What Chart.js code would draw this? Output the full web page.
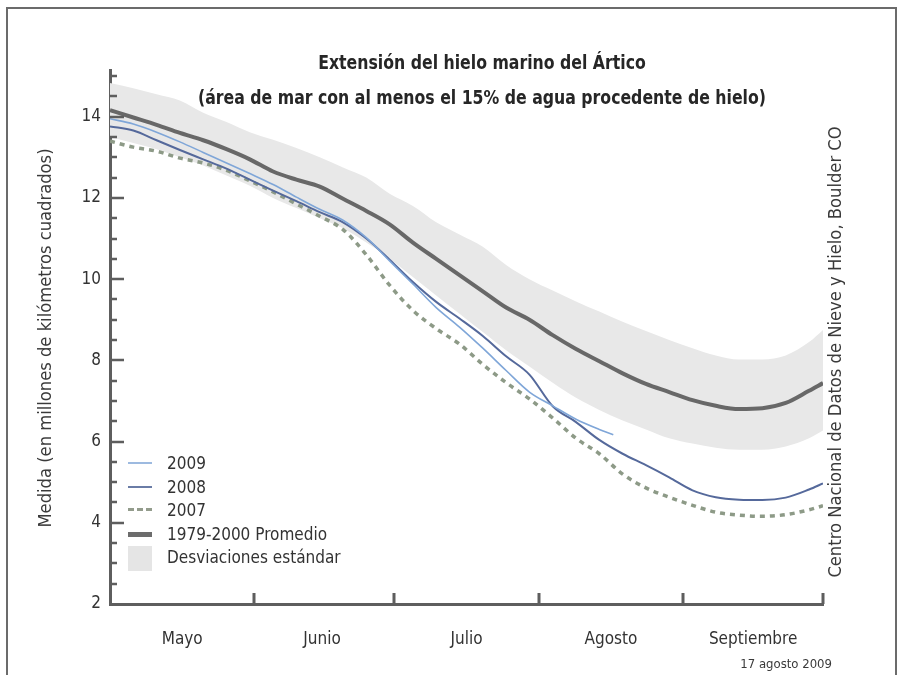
<!DOCTYPE html>
<html lang="es">
<head>
<meta charset="utf-8">
<title>Extensión del hielo marino del Ártico</title>
<script src="https://cdn.jsdelivr.net/npm/chart.js@4.4.1/dist/chart.umd.min.js"></script>
<style>
  html, body { margin: 0; padding: 0; background: #fff; }
  body {
    width: 905px; height: 675px; position: relative; overflow: hidden;
    font-family: "Liberation Sans Narrow", "DejaVu Sans Condensed", "Liberation Sans", sans-serif;
    color: #333;
  }
  #frame { position: absolute; left: 6px; top: 7px; width: 891px; height: 720px; border: 2px solid #6b6b6b; box-sizing: border-box; }
  #chart { position: absolute; left: 0; top: 0; }
  .title { position: absolute; left: 0; width: 964px; text-align: center; font-weight: bold; font-size: 19px; color: #262626; line-height: 22px; transform: scaleX(0.92); }
  .vtext { position: absolute; height: 22px; line-height: 22px; text-align: center; font-size: 18.2px; color: #3a3a3a; transform: rotate(-90deg); white-space: nowrap; }
  #date { position: absolute; right: 73px; top: 656px; font-size: 13px; color: #3a3a3a; }
  .leg { position: absolute; left: 128px; height: 22px; line-height: 22px; font-size: 17px; color: #333; white-space: nowrap; }
  .leg span.sw { position: absolute; left: 0; width: 24px; }
  .leg span.tx { position: absolute; left: 39px; top: 0; }
</style>
</head>
<body>
<div id="frame"></div>
<canvas id="chart" width="905" height="675"></canvas>

<div class="title" style="top:51px;">Extensión del hielo marino del Ártico</div>
<div class="title" style="top:86px;">(área de mar con al menos el 15% de agua procedente de hielo)</div>
<div class="vtext" style="left:-155px; top:327px; width:400px;">Medida (en millones de kilómetros cuadrados)</div>
<div class="vtext" style="left:595px; top:341px; width:480px;">Centro Nacional de Datos de Nieve y Hielo, Boulder CO</div>
<div id="date">17 agosto 2009</div>

<div class="leg" style="top:452px;"><span class="sw" style="top:10px; border-top:2px solid #9dbae0;"></span><span class="tx">2009</span></div>
<div class="leg" style="top:476px;"><span class="sw" style="top:10px; border-top:2.5px solid #6a7ca6;"></span><span class="tx">2008</span></div>
<div class="leg" style="top:499px;"><span class="sw" style="top:9px; border-top:3px dashed #939c8c;"></span><span class="tx">2007</span></div>
<div class="leg" style="top:523px;"><span class="sw" style="top:9px; border-top:5px solid #6c6c6c;"></span><span class="tx">1979-2000 Promedio</span></div>
<div class="leg" style="top:546px;"><span class="sw" style="top:0; height:25px; background:#e5e5e5;"></span><span class="tx">Desviaciones estándar</span></div>

<script>
// días desde el 1 de mayo
const days = [0, 5, 10, 15, 20, 25, 30, 35, 40, 45, 50, 55, 60, 65, 70, 75, 80, 85, 90, 95, 100, 105, 110, 115, 120, 125, 130, 135, 140, 145, 150, 153];
const days2009 = [0, 5, 10, 15, 20, 25, 30, 35, 40, 45, 50, 55, 60, 65, 70, 75, 80, 85, 90, 95, 100, 105, 108];

const mean7900 = [14.16, 13.98, 13.80, 13.60, 13.42, 13.20, 12.95, 12.65, 12.45, 12.28, 11.98, 11.68, 11.35, 10.90, 10.50, 10.10, 9.70, 9.30, 9.00, 8.62, 8.28, 7.98, 7.68, 7.42, 7.22, 7.02, 6.88, 6.80, 6.82, 6.95, 7.25, 7.44];
const sdUpper = [14.83, 14.70, 14.55, 14.40, 14.10, 13.87, 13.62, 13.43, 13.23, 13.00, 12.75, 12.50, 12.10, 11.80, 11.40, 11.10, 10.80, 10.35, 10.00, 9.72, 9.45, 9.20, 8.95, 8.72, 8.50, 8.30, 8.12, 8.02, 8.02, 8.12, 8.45, 8.75];
const sdLower = [13.50, 13.35, 13.20, 13.00, 12.80, 12.55, 12.30, 12.00, 11.75, 11.50, 11.25, 10.90, 10.50, 10.05, 9.60, 9.15, 8.70, 8.25, 7.85, 7.45, 7.08, 6.78, 6.52, 6.30, 6.08, 5.95, 5.85, 5.80, 5.80, 5.88, 6.08, 6.27];
const y2007 = [13.40, 13.25, 13.15, 12.98, 12.86, 12.68, 12.42, 12.15, 11.85, 11.55, 11.22, 10.60, 9.85, 9.23, 8.78, 8.40, 7.90, 7.45, 7.05, 6.58, 6.08, 5.70, 5.20, 4.86, 4.63, 4.43, 4.26, 4.19, 4.16, 4.20, 4.32, 4.42];
const y2008 = [13.76, 13.66, 13.42, 13.18, 12.95, 12.72, 12.45, 12.18, 11.92, 11.65, 11.40, 11.00, 10.48, 9.93, 9.44, 9.03, 8.60, 8.10, 7.65, 6.87, 6.48, 6.04, 5.70, 5.42, 5.12, 4.80, 4.63, 4.57, 4.56, 4.62, 4.82, 4.97];
const y2009 = [13.95, 13.82, 13.62, 13.38, 13.12, 12.86, 12.60, 12.33, 12.02, 11.72, 11.45, 11.02, 10.45, 9.88, 9.30, 8.82, 8.30, 7.75, 7.22, 6.88, 6.55, 6.30, 6.17];

const months = ['Mayo', 'Junio', 'Julio', 'Agosto', 'Septiembre'];
const monthMid = [15.5, 45.5, 76.5, 107.5, 138];
const monthEdges = [31, 61, 92, 123, 153];
const yTicks = [2, 4, 6, 8, 10, 12, 14];

const FONT = '"Liberation Sans Narrow", "DejaVu Sans Condensed", "Liberation Sans", sans-serif';
const pts = (xs, ys) => xs.map((d, i) => ({ x: d, y: ys[i] }));

const lineBase = { pointRadius: 0, fill: false, cubicInterpolationMode: 'monotone' };

// marcas hacia dentro en los ejes
const axisTicks = {
    id: 'axisTicks',
    afterDatasetsDraw(chart) {
        const { ctx, chartArea: a, scales: { x, y } } = chart;
        ctx.save();
        ctx.strokeStyle = '#5e5e5e';
        ctx.lineWidth = 2.5;
        ctx.beginPath();
        for (let v = 2.5; v <= 15; v += 0.5) {
            const py = Math.round(y.getPixelForValue(v));
            const len = v % 2 === 0 ? 14 : 7;
            ctx.moveTo(a.left, py);
            ctx.lineTo(a.left + len, py);
        }
        ctx.stroke();
        ctx.lineWidth = 3;
        ctx.beginPath();
        monthEdges.forEach(d => {
            const px = Math.round(x.getPixelForValue(d));
            ctx.moveTo(px, a.bottom);
            ctx.lineTo(px, a.bottom - 11);
        });
        ctx.stroke();
        ctx.restore();
    }
};

const ctx = document.getElementById('chart').getContext('2d');
const chart = new Chart(ctx, {
    type: 'line',
    data: {
        datasets: [{
            ...lineBase,
            label: '2009',
            data: pts(days2009, y2009),
            borderColor: '#7fa6d8',
            borderWidth: 1.6
        }, {
            ...lineBase,
            label: '2008',
            data: pts(days, y2008),
            borderColor: '#55699b',
            borderWidth: 2
        }, {
            ...lineBase,
            label: '2007',
            data: pts(days, y2007),
            borderColor: '#8d9a87',
            borderWidth: 3.5,
            borderDash: [5, 5]
        }, {
            ...lineBase,
            label: '1979-2000 Promedio',
            data: pts(days, mean7900),
            borderColor: '#686868',
            borderWidth: 4
        }, {
            ...lineBase,
            label: 'Desviaciones estándar',
            data: pts(days, sdUpper),
            borderWidth: 0,
            borderColor: 'rgba(0,0,0,0)',
            backgroundColor: '#e8e8e8',
            fill: '+1'
        }, {
            ...lineBase,
            label: 'sd-low',
            data: pts(days, sdLower),
            borderWidth: 0,
            borderColor: 'rgba(0,0,0,0)'
        }]
    },
    options: {
        responsive: false,
        animation: false,
        devicePixelRatio: 1,
        layout: { padding: { left: 30, right: 82, top: 70, bottom: 0 } },
        plugins: {
            legend: { display: false },
            tooltip: { enabled: false },
            title: { display: false }
        },
        scales: {
            x: {
                type: 'linear',
                min: 0,
                max: 153,
                afterBuildTicks: axis => { axis.ticks = monthMid.map(v => ({ value: v })); },
                afterFit: scale => { scale.height = 71; },
                grid: { display: false, drawTicks: false },
                border: { display: true, color: '#5e5e5e', width: 3 },
                ticks: {
                    autoSkip: false,
                    maxRotation: 0,
                    padding: 25,
                    color: '#333',
                    font: { family: FONT, size: 17 },
                    callback: (v, i) => months[i]
                }
            },
            y: {
                min: 2,
                max: 15.15,
                afterBuildTicks: axis => { axis.ticks = yTicks.map(v => ({ value: v })); },
                afterFit: scale => { scale.width = 80; },
                grid: { display: false, drawTicks: false },
                border: { display: true, color: '#5e5e5e', width: 3 },
                ticks: {
                    padding: 9,
                    color: '#333',
                    font: { family: FONT, size: 17 }
                }
            }
        }
    },
    plugins: [axisTicks]
});
</script>
</body>
</html>
